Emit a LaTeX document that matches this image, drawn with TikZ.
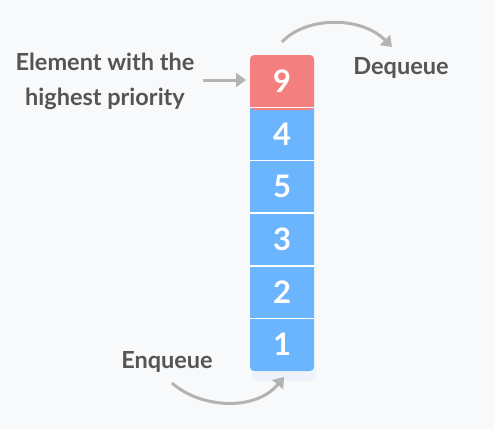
\documentclass[tikz,border=0pt]{standalone}
\usepackage{fontspec}
\setmainfont{Lato}
\usetikzlibrary{arrows.meta}
\definecolor{bg}{HTML}{F8F9FB}
\definecolor{redc}{HTML}{F47F7F}
\definecolor{bluec}{HTML}{6BB5FF}
\definecolor{txt}{HTML}{555555}
\definecolor{arr}{HTML}{B3B3B3}
\definecolor{shad}{HTML}{EEF3FB}
\begin{document}
\begin{tikzpicture}[x=1pt,y=-1pt,
  lbl/.style={font=\fontsize{23.5}{35}\selectfont\bfseries, text=txt, align=center},
  num/.style={font=\fontsize{31}{34}\selectfont\bfseries, text=white},
  arrowline/.style={draw=arr, line width=3pt, -{Triangle[length=10pt,width=14pt]}}]
\fill[bg] (0,0) rectangle (494,429);
\useasboundingbox (0,0) rectangle (494,429);
% shadow
\fill[shad, rounded corners=6pt] (252,362) rectangle (316,381);
% stack
\fill[bluec, rounded corners=4pt] (250,100) rectangle (314,371);
\fill[redc, rounded corners=4pt] (250,55) rectangle (314,110);
\fill[redc] (250,95) rectangle (314,106.5);
\foreach \i in {1,...,5} {
  \draw[white, line width=1.5pt] (250,{55+\i*52.7}) -- (314,{55+\i*52.7});
}
\node[num] (c9) at (282,81) {9};
\node[num] (c4) at (282,134) {4};
\node[num] (c5) at (282,186.5) {5};
\node[num] (c3) at (282,239) {3};
\node[num] (c2) at (282,292) {2};
\node[num] (c1) at (282,344.5) {1};
% labels
\node[lbl] (elem) at (105,81) {Element with the\\highest priority};
\node[lbl] (deq) at (401,68) {Dequeue};
\node[lbl] (enq) at (167,362) {Enqueue};
% arrows
\coordinate (ea) at (203,80);
\coordinate (eb) at (246,80);
\draw[arrowline] (ea) -- (eb);
\coordinate (d1) at (282,42);
\coordinate (d2) at (392,47);
\draw[arrowline] (d1) .. controls (305,17) and (360,15) .. (d2);
\coordinate (q1) at (172,383);
\coordinate (q2) at (284,377);
\draw[arrowline] (q1) .. controls (200,408) and (255,412) .. (q2);
\end{tikzpicture}
\end{document}
